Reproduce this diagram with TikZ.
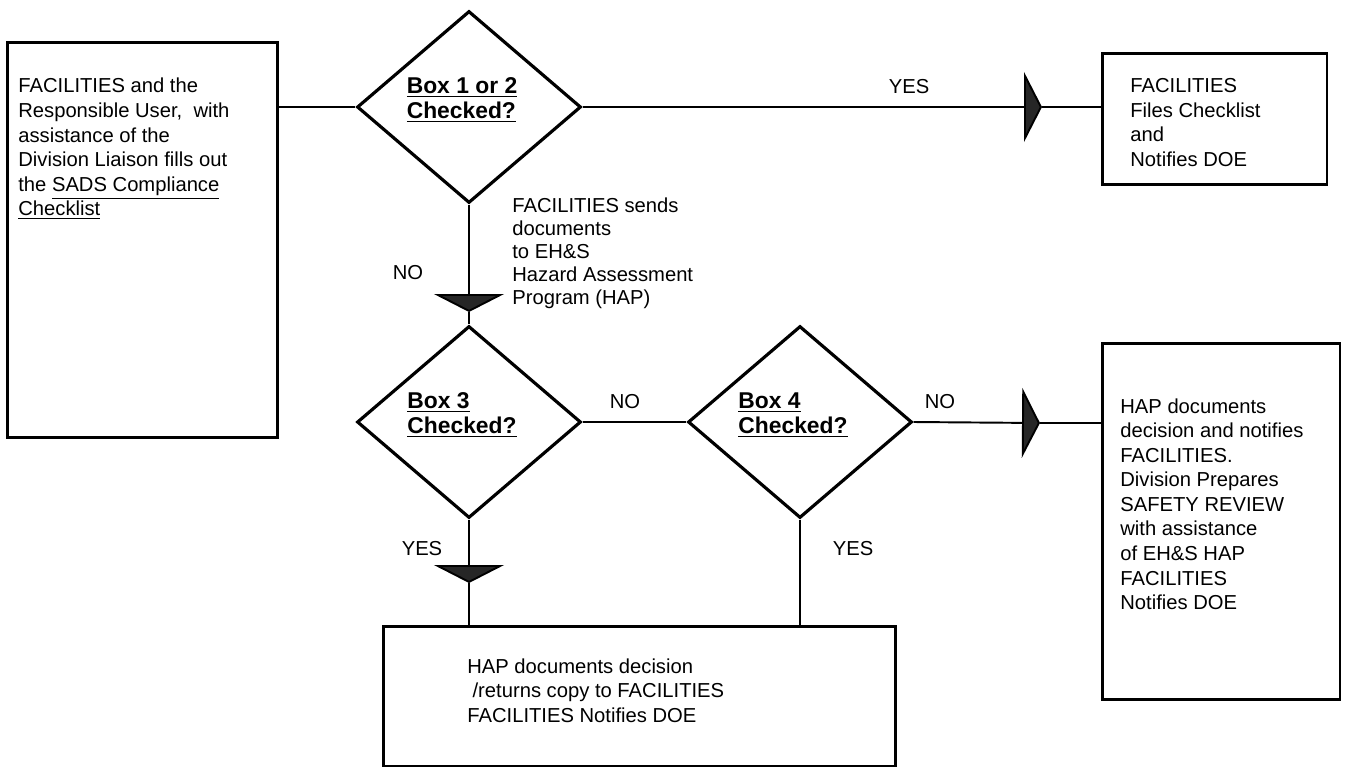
\documentclass[tikz,border=0pt]{standalone}
\usepackage{fontspec}
\setmainfont{Liberation Sans}
\usetikzlibrary{shapes.geometric, arrows.meta}

\begin{document}
\begin{tikzpicture}[x=0.02cm, y=-0.02cm,
  every node/.style={font=\fontsize{11.5}{14}\selectfont},
  box/.style={draw, rectangle, line width=1.7pt, inner sep=0pt},
  query/.style={draw, diamond, aspect=1, line width=1.8pt, inner sep=0pt,
    minimum width=4.48cm, minimum height=3.84cm},
  qtext/.style={align=left, inner sep=0pt, xshift=-0.14cm, yshift=0.14cm,
    font=\fontsize{13}{14}\selectfont\bfseries},
  txt/.style={anchor=north west, align=left, inner sep=0pt},
  lbl/.style={inner sep=0pt},
  flow/.style={line width=1.1pt},
  flag/.style={-{Triangle[length=0.36cm, width=1.4cm, fill=black!85]}}]
  \useasboundingbox (0,0) rectangle (1348,768);
  % checklist
  \node[box, minimum width=5.42cm, minimum height=7.92cm] (form) at (142.5,240) {};
  \node[txt] (formtxt) at (18,78) {FACILITIES and the\\Responsible User,\ \ with\\assistance of the\\Division Liaison fills out\\the \underline{SADS Compliance}\\\underline{Checklist}};
  % questions
  \node[query, label={[qtext, name=q12t]center:{\underline{Box 1 or 2}\\\underline{Checked?}}}] (q12) at (469,107) {};
  \node[query, label={[qtext, name=q3t]center:{\underline{Box 3}\\\underline{Checked?}}}] (q3) at (469,422) {};
  \node[query, label={[qtext, name=q4t]center:{\underline{Box 4}\\\underline{Checked?}}}] (q4) at (800,422) {};
  % outcomes
  \node[box, minimum width=4.5cm, minimum height=2.64cm] (files) at (1214.5,119) {};
  \node[txt] (filestxt) at (1130,78) {FACILITIES\\Files Checklist\\and\\Notifies DOE};
  \node[box, minimum width=4.76cm, minimum height=7.14cm] (review) at (1221,521.5) {};
  \node[txt] (reviewtxt) at (1120,398) {HAP documents\\decision and notifies\\FACILITIES.\\Division Prepares\\SAFETY REVIEW\\with assistance\\of EH\&S HAP\\FACILITIES\\Notifies DOE};
  \node[box, minimum width=10.26cm, minimum height=2.8cm] (decide) at (639.5,696) {};
  \node[txt] (decidetxt) at (467,658) {HAP documents decision\\\hspace{3pt}/returns copy to FACILITIES\\FACILITIES Notifies DOE};
  \node[txt, font=\fontsize{11.5}{13}\selectfont] (sends) at (512,198) {FACILITIES sends\\documents\\to EH\&S\\Hazard Assessment\\Program (HAP)};
  % arrow heads
  \coordinate (t1) at (1042,107);
  \coordinate (t2) at (469,312);
  \coordinate (t3) at (469,583);
  \coordinate (t4) at (1040,423);
  % connectors
  \draw[flow] (form.east |- q12.west) -- (q12.west);
  \draw[flow, flag] (q12.east) -- (t1);
  \draw[flow] (t1) -- (t1 -| files.west);
  \draw[flow, flag] (q12.south) -- (t2);
  \draw[flow] (t2) -- (q3.north);
  \draw[flow] (q3.east) -- (q4.west);
  \draw[flow, flag] (q4.east) -- (t4);
  \draw[flow] (t4) -- (t4 -| review.west);
  \draw[flow, flag] (q3.south) -- (t3);
  \draw[flow] (t3) -- (t3 |- decide.north);
  \draw[flow] (q4.south) -- (q4.south |- decide.north);
  % answers
  \node[lbl] (yes12) at (909,87) {YES};
  \node[lbl] (no12) at (408,273) {NO};
  \node[lbl] (no3) at (625,402) {NO};
  \node[lbl] (no4) at (940,402) {NO};
  \node[lbl] (yes3) at (422,549) {YES};
  \node[lbl] (yes4) at (853,549) {YES};
\end{tikzpicture}
\end{document}
